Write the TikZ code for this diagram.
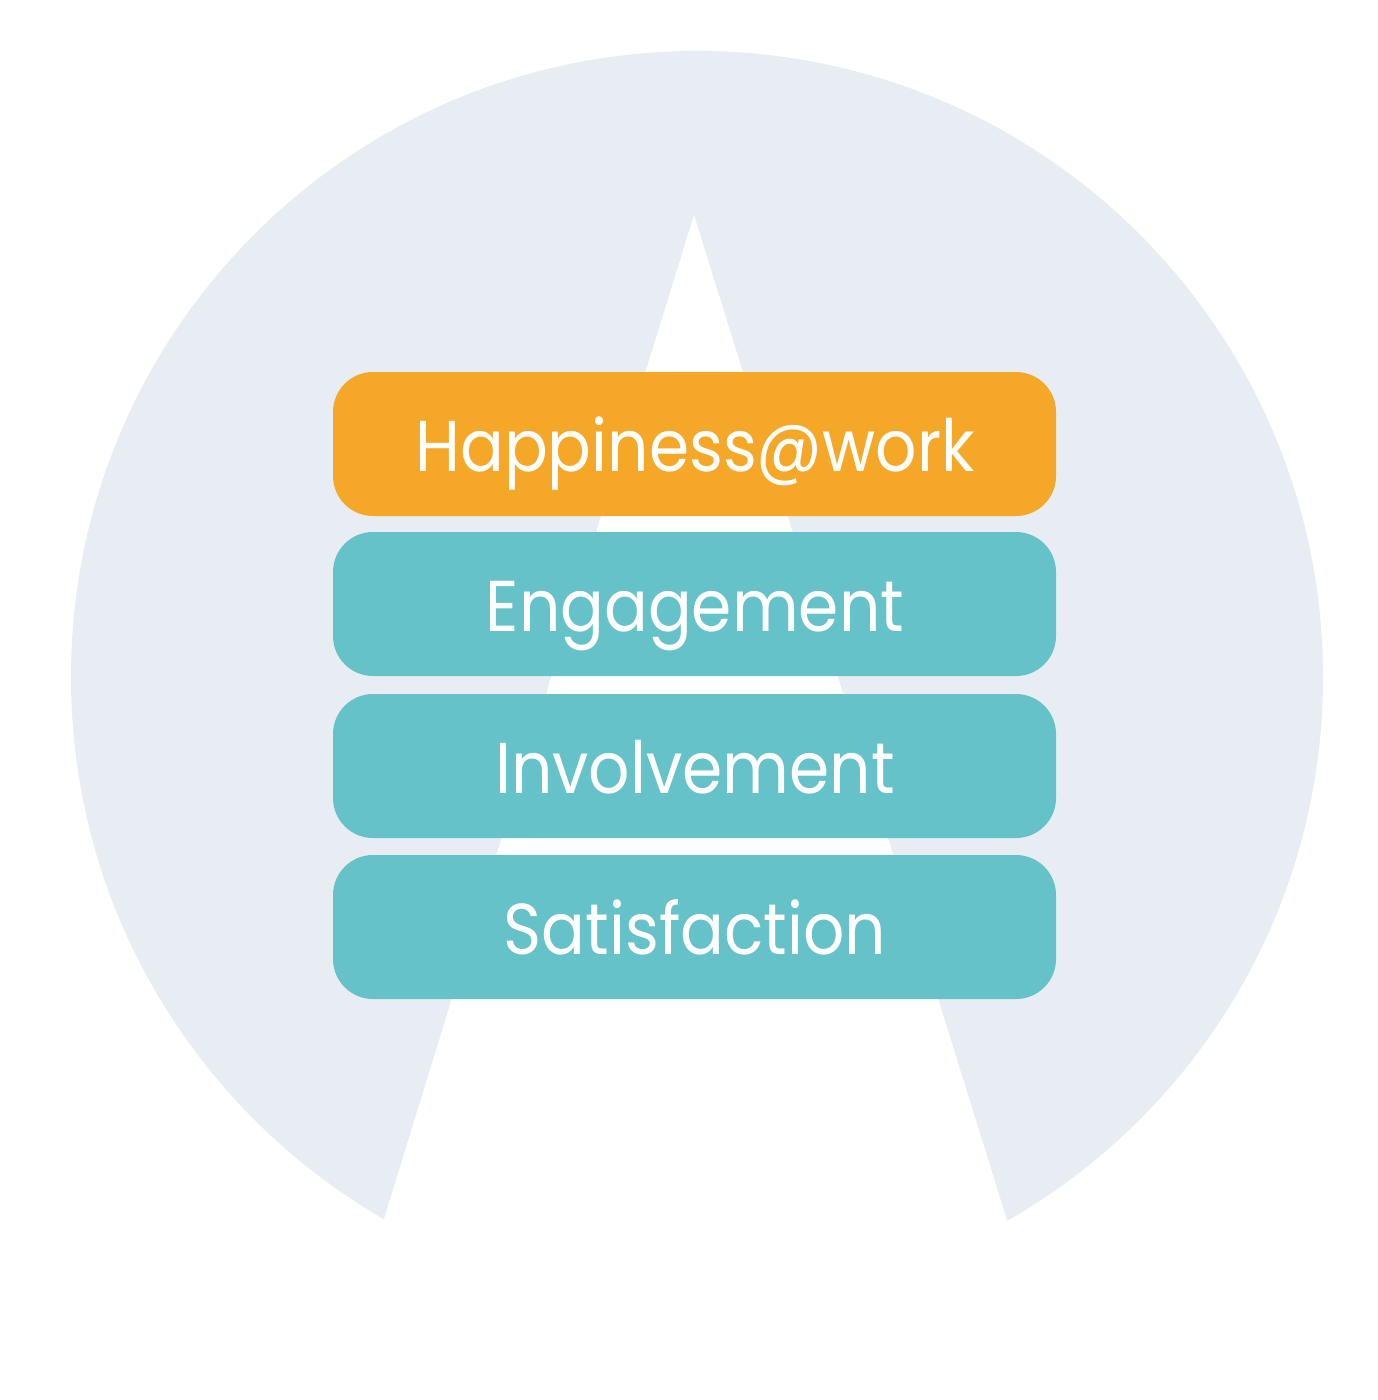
\documentclass[tikz,border=0pt]{standalone}
\usepackage{fontspec}
\setmainfont{Poppins}[FakeStretch=0.9]
\definecolor{bgc}{HTML}{E7EDF3}
\definecolor{orangec}{HTML}{F5A828}
\definecolor{tealc}{HTML}{64C2C8}
\begin{document}
\begin{tikzpicture}[x=1pt,y=-1pt,
  label/.style={text=white,font=\fontsize{72}{80}\selectfont,anchor=base},
  ]
\useasboundingbox (0,0) rectangle (1377,1400);
\fill[white] (0,0) rectangle (1377,1400);
\fill[bgc] (697,677) circle[radius=626];
\coordinate (apex) at (694,215);
\coordinate (bl) at (328,1400);
\coordinate (br) at (1063,1400);
\fill[white] (apex) -- (br) -- (bl) -- cycle;
\foreach \n/\t/\c in {1/372/orangec,2/532/tealc,3/694/tealc,4/855/tealc}{
  \fill[\c,rounded corners=40pt] (333,\t) rectangle (1056,\t+144);
}
\node[label] (h) at (695,471) {Happiness@work};
\node[label] (e) at (695,631) {Engagement};
\node[label] (i) at (695,793) {Involvement};
\node[label] (s) at (695,954) {Satisfaction};
\end{tikzpicture}
\end{document}
